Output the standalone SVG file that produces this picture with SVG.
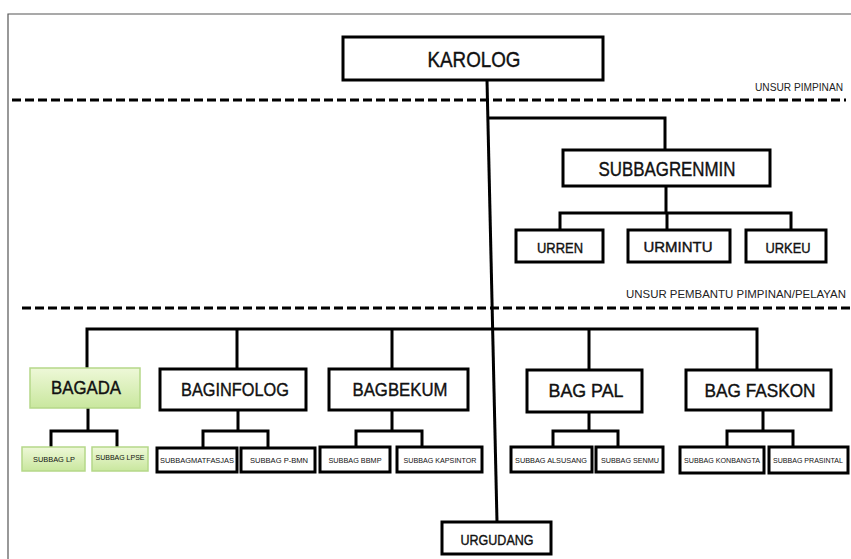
<svg xmlns="http://www.w3.org/2000/svg" width="851" height="559" viewBox="0 0 851 559">
<defs>
<linearGradient id="gr" x1="0" y1="0" x2="0" y2="1">
<stop offset="0" stop-color="#eef8d8"/>
<stop offset="1" stop-color="#c9e79e"/>
</linearGradient>
<style>
.bx{fill:#fff;stroke:#000;stroke-width:3}
.gb{fill:url(#gr);stroke:#b5d889;stroke-width:1.5}
.t{font-family:"Liberation Sans",Arial,sans-serif;fill:#111;text-anchor:middle;dominant-baseline:central}
.b{stroke:#111;stroke-width:0.4}
.c{fill:none;stroke:#000;stroke-width:3}
.d{fill:none;stroke:#000;stroke-width:3;stroke-dasharray:9 4}
.lbl{font-family:"Liberation Sans",Arial,sans-serif;fill:#222;text-anchor:end}
</style>
</defs>
<rect width="851" height="559" fill="#fff"/>
<path d="M8 559V14H851" fill="none" stroke="#555" stroke-width="1.2"/>
<g id="separators">
<line class="d" x1="12" y1="100" x2="846" y2="100"/>
<text class="lbl" x="843" y="91" font-size="10" textLength="88" lengthAdjust="spacingAndGlyphs">UNSUR PIMPINAN</text>
<line class="d" x1="22" y1="308" x2="851" y2="308"/>
<text class="lbl" x="846" y="298" font-size="11" textLength="220" lengthAdjust="spacingAndGlyphs">UNSUR PEMBANTU PIMPINAN/PELAYAN</text>
</g>
<g id="connectors">
<path class="c" d="M487 80L497 522"/>
<path class="c" d="M488 118H665V150"/>
<path class="c" d="M666 186V213M560 230V213H791V230M667 213V230"/>
<path class="c" d="M87 368V329H757V370M237 329V369M392 329V369M589 329V370"/>
<path class="c" d="M88 408V431M51 447V431H117V447"/>
<path class="c" d="M238 410V431M203 448V431H268V448"/>
<path class="c" d="M392 410V431M356 447V431H422V447"/>
<path class="c" d="M589 412V431M553 447V431H618V447"/>
<path class="c" d="M763 410V431M727 447V431H793V447"/>
</g>
<g id="karolog"><rect class="bx" x="343" y="37" width="260" height="43"/><text class="t b" x="474" y="59" font-size="22" textLength="93" lengthAdjust="spacingAndGlyphs">KAROLOG</text></g>
<g id="subbagrenmin"><rect class="bx" x="563" y="150" width="207" height="36"/><text class="t b" x="667" y="169" font-size="20" textLength="137" lengthAdjust="spacingAndGlyphs">SUBBAGRENMIN</text></g>
<g id="urren"><rect class="bx" x="516" y="230" width="87" height="32"/><text class="t b" x="560" y="247" font-size="15" textLength="46" lengthAdjust="spacingAndGlyphs">URREN</text></g>
<g id="urmintu"><rect class="bx" x="628" y="230" width="102" height="32"/><text class="t b" x="678" y="246" font-size="15" textLength="69" lengthAdjust="spacingAndGlyphs">URMINTU</text></g>
<g id="urkeu"><rect class="bx" x="746" y="230" width="80" height="32"/><text class="t b" x="788" y="247" font-size="15" textLength="45" lengthAdjust="spacingAndGlyphs">URKEU</text></g>
<g id="bagada"><rect class="gb" x="30" y="368" width="110" height="40"/><text class="t b" x="86" y="387" font-size="19" textLength="70" lengthAdjust="spacingAndGlyphs">BAGADA</text></g>
<g id="baginfolog"><rect class="bx" x="160" y="369" width="146" height="41"/><text class="t b" x="235" y="389" font-size="19" textLength="108" lengthAdjust="spacingAndGlyphs">BAGINFOLOG</text></g>
<g id="bagbekum"><rect class="bx" x="329" y="369" width="139" height="41"/><text class="t b" x="400" y="389" font-size="19" textLength="95" lengthAdjust="spacingAndGlyphs">BAGBEKUM</text></g>
<g id="bagpal"><rect class="bx" x="527" y="370" width="115" height="42"/><text class="t b" x="586" y="390" font-size="19" textLength="75" lengthAdjust="spacingAndGlyphs">BAG PAL</text></g>
<g id="bagfaskon"><rect class="bx" x="686" y="370" width="145" height="40"/><text class="t b" x="760" y="390" font-size="19" textLength="111" lengthAdjust="spacingAndGlyphs">BAG FASKON</text></g>
<g id="subbaglp"><rect class="gb" x="22" y="447" width="63" height="24"/><text class="t" x="54" y="459" font-size="8" textLength="42" lengthAdjust="spacingAndGlyphs">SUBBAG LP</text></g>
<g id="subbaglpse"><rect class="gb" x="92" y="447" width="56" height="24"/><text class="t" x="120" y="457" font-size="8" textLength="49" lengthAdjust="spacingAndGlyphs">SUBBAG LPSE</text></g>
<g id="subbagmatfasjas"><rect class="bx" x="157" y="448" width="80" height="24"/><text class="t" x="197" y="460" font-size="8" textLength="74" lengthAdjust="spacingAndGlyphs">SUBBAGMATFASJAS</text></g>
<g id="subbagpbmn"><rect class="bx" x="241" y="448" width="74" height="24"/><text class="t" x="279" y="460" font-size="8" textLength="58" lengthAdjust="spacingAndGlyphs">SUBBAG P-BMN</text></g>
<g id="subbagbbmp"><rect class="bx" x="320" y="447" width="70" height="25"/><text class="t" x="355" y="460" font-size="8" textLength="53" lengthAdjust="spacingAndGlyphs">SUBBAG BBMP</text></g>
<g id="subbagkapsintor"><rect class="bx" x="397" y="447" width="85" height="25"/><text class="t" x="440" y="460" font-size="8" textLength="73" lengthAdjust="spacingAndGlyphs">SUBBAG KAPSINTOR</text></g>
<g id="subbagalsusang"><rect class="bx" x="511" y="447" width="81" height="25"/><text class="t" x="551" y="460" font-size="8" textLength="72" lengthAdjust="spacingAndGlyphs">SUBBAG ALSUSANG</text></g>
<g id="subbagsenmu"><rect class="bx" x="596" y="447" width="67" height="25"/><text class="t" x="630" y="460" font-size="8" textLength="58" lengthAdjust="spacingAndGlyphs">SUBBAG SENMU</text></g>
<g id="subbagkonbangta"><rect class="bx" x="680" y="447" width="84" height="26"/><text class="t" x="722" y="460" font-size="8" textLength="76" lengthAdjust="spacingAndGlyphs">SUBBAG KONBANGTA</text></g>
<g id="subbagprasintal"><rect class="bx" x="769" y="447" width="79" height="26"/><text class="t" x="808" y="460" font-size="8" textLength="70" lengthAdjust="spacingAndGlyphs">SUBBAG PRASINTAL</text></g>
<g id="urgudang"><rect class="bx" x="442" y="522" width="109" height="32"/><text class="t b" x="497" y="539" font-size="15" textLength="73" lengthAdjust="spacingAndGlyphs">URGUDANG</text></g>
</svg>
